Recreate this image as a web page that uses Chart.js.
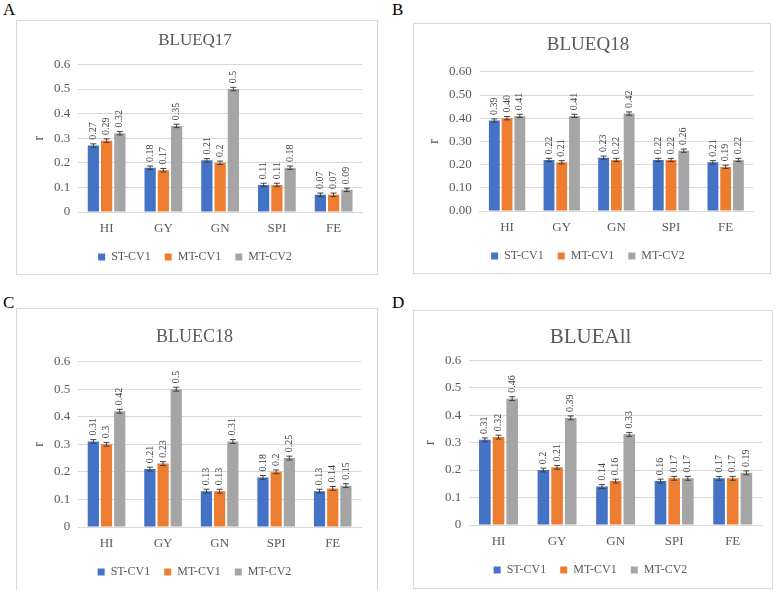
<!DOCTYPE html>
<html>
<head>
<meta charset="utf-8">
<script src="https://cdn.jsdelivr.net/npm/chart.js@4.4.1/dist/chart.umd.min.js"></script>
<style>
  body { margin: 0; background: #fff; width: 780px; height: 590px; position: relative; overflow: hidden; }
  .letter { position: absolute; font-family: 'Liberation Serif', serif; font-size: 17px; color: #000; }
  .box { position: absolute; border: 1px solid #D9D9D9; box-sizing: border-box; }
  .box canvas { position: absolute; left: 0; top: 0; }
</style>
</head>
<body>
<div class="letter" style="left:3px;top:0px">A</div>
<div class="letter" style="left:392px;top:0px">B</div>
<div class="letter" style="left:3px;top:293px">C</div>
<div class="letter" style="left:392px;top:293px">D</div>

<div class="box" style="left:16px;top:20px;width:362px;height:255px"><canvas id="chartA" width="360" height="253"></canvas></div>
<div class="box" style="left:413px;top:23px;width:358px;height:251px"><canvas id="chartB" width="356" height="249"></canvas></div>
<div class="box" style="left:16px;top:308px;width:362px;height:283px"><canvas id="chartC" width="360" height="281"></canvas></div>
<div class="box" style="left:413px;top:310px;width:360px;height:279px"><canvas id="chartD" width="358" height="277"></canvas></div>

<script>
const traits = ['HI', 'GY', 'GN', 'SPI', 'FE'];
const seriesNames = ['ST-CV1', 'MT-CV1', 'MT-CV2'];
const seriesColors = ['#4472C4', '#ED7D31', '#A5A5A5'];

// BLUEQ17
const q17_st1 = [0.27, 0.18, 0.21, 0.11, 0.07];
const q17_mt1 = [0.29, 0.17, 0.20, 0.11, 0.07];
const q17_mt2 = [0.32, 0.35, 0.50, 0.18, 0.09];
// BLUEQ18
const q18_st1 = [0.39, 0.22, 0.23, 0.22, 0.21];
const q18_mt1 = [0.40, 0.21, 0.22, 0.22, 0.19];
const q18_mt2 = [0.41, 0.41, 0.42, 0.26, 0.22];
// BLUEC18
const c18_st1 = [0.31, 0.21, 0.13, 0.18, 0.13];
const c18_mt1 = [0.30, 0.23, 0.13, 0.20, 0.14];
const c18_mt2 = [0.42, 0.50, 0.31, 0.25, 0.15];
// BLUEAll
const all_st1 = [0.31, 0.20, 0.14, 0.16, 0.17];
const all_mt1 = [0.32, 0.21, 0.16, 0.17, 0.17];
const all_mt2 = [0.46, 0.39, 0.33, 0.17, 0.19];

const errSize = 0.007;
const serif = "'Liberation Serif', 'Times New Roman', serif";
const textGrey = '#595959';

// error bars + vertical value labels
const errorLabels = {
    id: 'errorLabels',
    afterDatasetsDraw(chart, args, opts) {
        const ctx = chart.ctx;
        const yScale = chart.scales.y;
        ctx.save();
        chart.data.datasets.forEach((ds, i) => {
            const meta = chart.getDatasetMeta(i);
            meta.data.forEach((bar, j) => {
                const v = ds.data[j];
                const yt = yScale.getPixelForValue(v + errSize);
                const yb = yScale.getPixelForValue(v - errSize);
                ctx.strokeStyle = '#404040';
                ctx.lineWidth = 1;
                ctx.beginPath();
                ctx.moveTo(bar.x, yt); ctx.lineTo(bar.x, yb);
                ctx.moveTo(bar.x - 3, yt); ctx.lineTo(bar.x + 3, yt);
                ctx.moveTo(bar.x - 3, yb); ctx.lineTo(bar.x + 3, yb);
                ctx.stroke();

                ctx.save();
                ctx.translate(bar.x, yt - 4);
                ctx.rotate(-Math.PI / 2);
                ctx.fillStyle = '#404040';
                ctx.font = '10px ' + serif;
                ctx.textAlign = 'left';
                ctx.textBaseline = 'middle';
                ctx.fillText(opts.fmt(v), 0, 0);
                ctx.restore();
            });
        });
        ctx.restore();
    }
};

function makeChart(id, title, titleSize, st1, mt1, mt2, fmt, tickFmt, pad, titlePad) {
    const values = [st1, mt1, mt2];
    return new Chart(document.getElementById(id), {
        type: 'bar',
        plugins: [errorLabels],
        data: {
            labels: traits,
            datasets: seriesNames.map((name, i) => ({
                label: name,
                data: values[i],
                backgroundColor: seriesColors[i],
                borderWidth: 0,
                categoryPercentage: 0.7,
                barPercentage: 0.85,
            })),
        },
        options: {
            responsive: false,
            animation: false,
            layout: { padding: pad },
            plugins: {
                title: {
                    display: true,
                    text: title,
                    color: textGrey,
                    font: { family: serif, size: titleSize, weight: 'normal' },
                    padding: titlePad,
                },
                legend: {
                    position: 'bottom',
                    labels: {
                        color: textGrey,
                        font: { family: serif, size: 12 },
                        boxWidth: 7,
                        boxHeight: 7,
                        padding: 14,
                    },
                },
                tooltip: { enabled: false },
                errorLabels: { fmt: fmt },
            },
            scales: {
                x: {
                    grid: { display: false },
                    border: { color: '#D9D9D9' },
                    ticks: { color: textGrey, padding: 2, font: { family: serif, size: 13, lineHeight: 1 } },
                },
                y: {
                    min: 0,
                    max: 0.6,
                    grid: { color: '#D9D9D9', drawTicks: false },
                    border: { display: false },
                    ticks: {
                        stepSize: 0.1,
                        color: textGrey,
                        padding: 8,
                        font: { family: serif, size: 13 },
                        callback: tickFmt,
                    },
                    title: {
                        display: true,
                        text: 'r',
                        color: textGrey,
                        padding: { top: 4, bottom: 0 },
                        font: { family: serif, size: 14, lineHeight: 1 },
                    },
                },
            },
        },
    });
}

const shortFmt = v => String(Math.round(v * 100) / 100);
const fixedFmt = v => v.toFixed(2);
const shortTick = v => String(Math.round(v * 10) / 10);
const fixedTick = v => v.toFixed(2);

makeChart('chartA', 'BLUEQ17', 17, q17_st1, q17_mt1, q17_mt2, shortFmt, shortTick,
    { left: 11, right: 15, top: 6, bottom: 1 }, { top: 3, bottom: 14 });
makeChart('chartB', 'BLUEQ18', 19, q18_st1, q18_mt1, q18_mt2, fixedFmt, fixedTick,
    { left: 9, right: 17, top: 6, bottom: 1 }, { top: 4, bottom: 15 });
makeChart('chartC', 'BLUEC18', 18, c18_st1, c18_mt1, c18_mt2, shortFmt, shortTick,
    { left: 11, right: 16, top: 6, bottom: 2 }, { top: 11, bottom: 14 });
makeChart('chartD', 'BLUEAll', 21, all_st1, all_mt1, all_mt2, shortFmt, shortTick,
    { left: 5, right: 10, top: 6, bottom: 2 }, { top: 8, bottom: 10 });
</script>
</body>
</html>
